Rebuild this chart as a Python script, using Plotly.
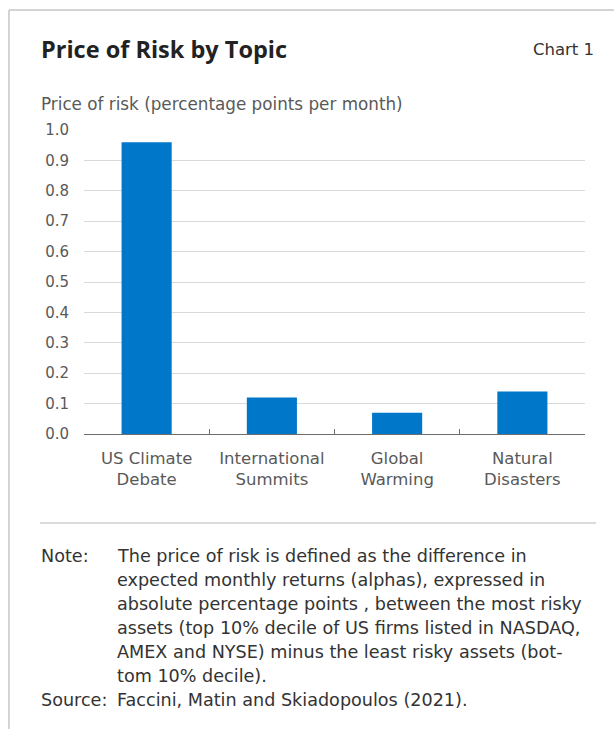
import plotly.graph_objects as go

# Data
topics = ["US Climate<br>Debate", "International<br>Summits", "Global<br>Warming", "Natural<br>Disasters"]
price_of_risk = [0.96, 0.12, 0.07, 0.14]
y_ticks = [0.0, 0.1, 0.2, 0.3, 0.4, 0.5, 0.6, 0.7, 0.8, 0.9, 1.0]

title_text = "Price of Risk by Topic"
chart_no = "Chart 1"
y_title = "Price of risk (percentage points per month)"
note_lines = [
    "The price of risk is defined as the difference in",
    "expected monthly returns (alphas), expressed in",
    "absolute percentage points , between the most risky",
    "assets (top 10% decile of US firms listed in NASDAQ,",
    "AMEX and NYSE) minus the least risky assets (bot-",
    "tom 10% decile).",
]
source_text = "Faccini, Matin and Skiadopoulos (2021)."

FONT = "DejaVu Sans"
TITLE_FONT = "Open Sans"
GREY = "#595959"
DARK = "#333333"
BAR = "#0077c8"
NOTE_SIZE = 17.6

W, H = 614, 729
L, R, T, B = 84, 29, 130, 295
PW, PH = W - L - R, H - T - B


def px(x):
    return (x - L) / PW


def py(y):
    return 1 - (y - T) / PH


fig = go.Figure(
    go.Bar(x=topics, y=price_of_risk, marker_color=BAR, marker_line_width=0, width=0.4)
)

annotations = [
    dict(x=px(39), y=py(49), text="<b>" + title_text + "</b>", xanchor="left", yanchor="middle",
         font=dict(family=TITLE_FONT, size=23.5, color="#222222")),
    dict(x=px(596), y=py(49), text=chart_no, xanchor="right", yanchor="middle",
         font=dict(family=FONT, size=16.5, color=DARK)),
    dict(x=px(39), y=py(104), text=y_title, xanchor="left", yanchor="middle",
         font=dict(family=FONT, size=16.8, color=GREY)),
    dict(x=px(39), y=py(556), text="Note:", xanchor="left", yanchor="middle",
         font=dict(family=FONT, size=NOTE_SIZE, color=DARK)),
    dict(x=px(39), y=py(700), text="Source:", xanchor="left", yanchor="middle",
         font=dict(family=FONT, size=NOTE_SIZE, color=DARK)),
    dict(x=px(115), y=py(700), text=source_text, xanchor="left", yanchor="middle",
         font=dict(family=FONT, size=NOTE_SIZE, color=DARK)),
]
for i, line in enumerate(note_lines):
    annotations.append(dict(x=px(115), y=py(556 + 24 * i), text=line, xanchor="left",
                            yanchor="middle", font=dict(family=FONT, size=NOTE_SIZE, color=DARK)))
for a in annotations:
    a.update(xref="paper", yref="paper", showarrow=False)

line_col = "#c6c6c6"
shapes = [
    dict(type="line", xref="paper", yref="paper", x0=px(9), x1=px(614), y0=py(10), y1=py(10),
         line=dict(color=line_col, width=1.5)),
    dict(type="line", xref="paper", yref="paper", x0=px(9), x1=px(9), y0=py(10), y1=py(729),
         line=dict(color=line_col, width=1.5)),
    dict(type="line", xref="paper", yref="paper", x0=px(40), x1=px(596), y0=py(523), y1=py(523),
         line=dict(color="#cfcfcf", width=1.5)),
]

fig.update_layout(
    width=W, height=H,
    margin=dict(l=L, r=R, t=T, b=B, autoexpand=False),
    paper_bgcolor="white", plot_bgcolor="white",
    showlegend=False, bargap=0.6,
    font=dict(family=FONT, color=GREY),
    annotations=annotations, shapes=shapes,
)
fig.update_xaxes(
    showline=True, linecolor="#6e6e6e", linewidth=1,
    ticks="inside", ticklen=5, tickcolor="#6e6e6e", tickson="boundaries",
    ticklabelstandoff=9,
    tickfont=dict(family=FONT, size=16.5, color=GREY), showgrid=False,
)
fig.update_yaxes(
    range=[0, 1.0], tickvals=y_ticks, ticktext=[f"{v:.1f}" for v in y_ticks],
    showgrid=True, gridcolor="#d9d9d9", gridwidth=1, zeroline=False, showline=False,
    ticks="", ticklabelstandoff=14,
    tickfont=dict(family=FONT, size=15, color=GREY),
)

fig.write_html("out.html")
